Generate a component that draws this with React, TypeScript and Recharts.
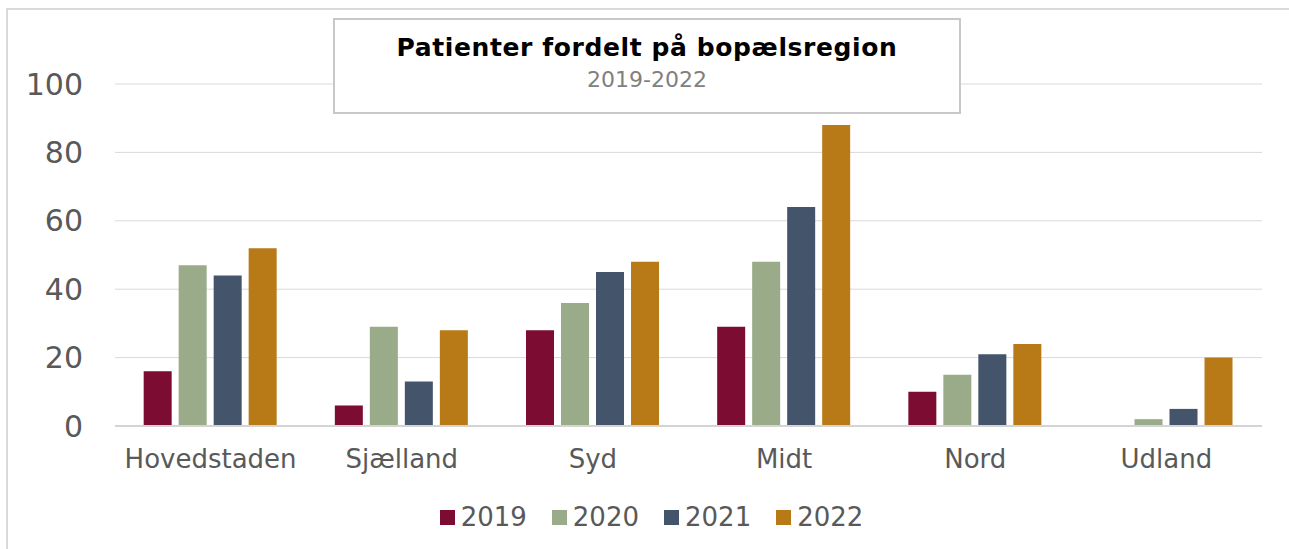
import React from "react";
import { BarChart, Bar, XAxis, YAxis, CartesianGrid, Legend } from "recharts";

const regions = ["Hovedstaden", "Sjælland", "Syd", "Midt", "Nord", "Udland"];
const v2019 = [16, 6, 28, 29, 10, 0];
const v2020 = [47, 29, 36, 48, 15, 2];
const v2021 = [44, 13, 45, 64, 21, 5];
const v2022 = [52, 28, 48, 88, 24, 20];
const yTicks = [0, 20, 40, 60, 80, 100];

const series = [
  { key: "y2019", name: "2019", color: "#7D0C32" },
  { key: "y2020", name: "2020", color: "#99AB89" },
  { key: "y2021", name: "2021", color: "#43546B" },
  { key: "y2022", name: "2022", color: "#B77A16" },
];

const data = regions.map((region, i) => ({
  region,
  y2019: v2019[i],
  y2020: v2020[i],
  y2021: v2021[i],
  y2022: v2022[i],
}));

const FONT = "'DejaVu Sans', Verdana, sans-serif";

function LegendContent() {
  return (
    <div
      style={{
        display: "flex",
        justifyContent: "center",
        gap: 25,
        paddingLeft: 14,
        fontFamily: FONT,
        fontSize: 26,
        color: "#595959",
        lineHeight: "30px",
      }}
    >
      {series.map((s) => (
        <div key={s.key} style={{ display: "flex", alignItems: "center" }}>
          <span
            style={{
              display: "inline-block",
              width: 15,
              height: 15,
              background: s.color,
              marginRight: 6,
            }}
          />
          {s.name}
        </div>
      ))}
    </div>
  );
}

export default function App() {
  return (
    <div
      style={{
        position: "absolute",
        left: 0,
        top: 0,
        width: 1289,
        height: 549,
        background: "#fff",
        overflow: "hidden",
      }}
    >
      <div
        style={{
          position: "absolute",
          left: 6,
          top: 8,
          width: 1300,
          height: 560,
          borderTop: "2px solid #d9d9d9",
          borderLeft: "2px solid #d9d9d9",
        }}
      />
      <BarChart
        width={1289}
        height={549}
        data={data}
        margin={{ top: 84, right: 27, left: 0, bottom: 0 }}
        barCategoryGap="15%"
        barGap={7}
        style={{ position: "absolute", left: 0, top: 0 }}
      >
        <CartesianGrid vertical={false} stroke="#d9d9d9" strokeWidth={1} />
        <XAxis
          dataKey="region"
          height={93}
          axisLine={{ stroke: "#d4d4d4", strokeWidth: 2 }}
          tickLine={false}
          tickSize={0}
          tickMargin={24}
          tick={{ fill: "#595959", fontSize: 26, fontFamily: FONT }}
          interval={0}
        />
        <YAxis
          width={115}
          domain={[0, 100]}
          ticks={yTicks}
          axisLine={false}
          tickLine={false}
          tickSize={0}
          tickMargin={32}
          tick={{ fill: "#595959", fontSize: 30, fontFamily: FONT }}
        />
        {series.map((s) => (
          <Bar
            key={s.key}
            dataKey={s.key}
            name={s.name}
            fill={s.color}
            isAnimationActive={false}
          />
        ))}
        <Legend
          content={<LegendContent />}
          wrapperStyle={{ position: "absolute", top: 502, left: 0, width: 1289 }}
        />
      </BarChart>
      <div
        style={{
          position: "absolute",
          left: 333,
          top: 18,
          width: 624,
          height: 92,
          border: "2px solid #c8c8c8",
          background: "#fff",
          textAlign: "center",
          fontFamily: FONT,
        }}
      >
        <div
          style={{
            fontWeight: "bold",
            fontSize: 25,
            letterSpacing: 0.6,
            color: "#000",
            marginTop: 13,
            lineHeight: "30px",
          }}
        >
          Patienter fordelt på bopælsregion
        </div>
        <div style={{ fontSize: 22, color: "#808080", lineHeight: "26px", marginTop: 4 }}>
          2019-2022
        </div>
      </div>
    </div>
  );
}
